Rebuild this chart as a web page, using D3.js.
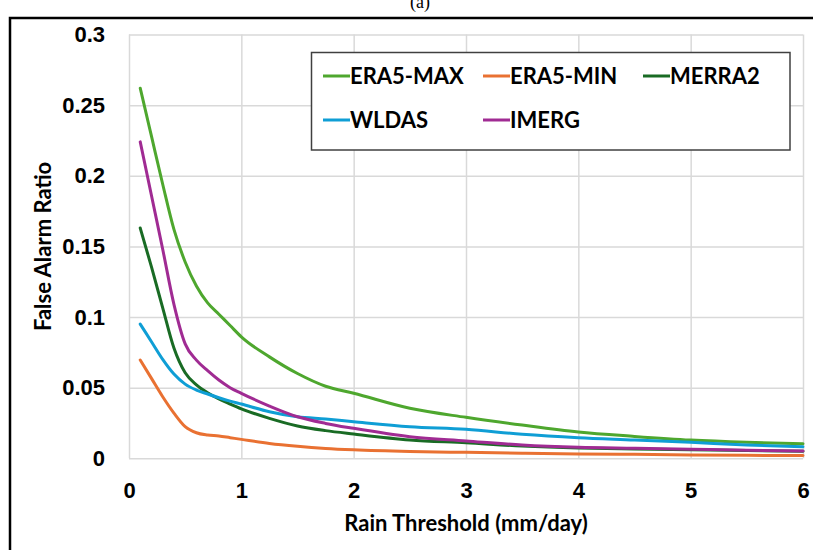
<!DOCTYPE html>
<html>
<head>
<meta charset="utf-8">
<script src="https://cdn.jsdelivr.net/npm/d3@7"></script>
<style>
  html, body { margin: 0; padding: 0; background: #fff; overflow: hidden; }
  svg { display: block; }
  .tick text { font-family: "Liberation Sans", Arial, sans-serif; font-weight: bold; font-size: 22px; fill: #000; }
  .title { font-family: Lato, "Open Sans", sans-serif; font-weight: bold; font-size: 22px; fill: #000; }
  .legend text { font-family: Lato, "Open Sans", sans-serif; font-weight: bold; font-size: 22px; fill: #000; }
</style>
</head>
<body>
<svg id="chart" width="813" height="550"></svg>
<script>
// rain thresholds (mm/day)
const thresholds = [0.1, 0.2, 0.3, 0.4, 0.5, 0.6, 0.7, 0.8, 0.9, 1.0, 1.25, 1.5, 1.75, 2.0, 2.5, 3.0, 3.5, 4.0, 4.5, 5.0, 5.5, 6.0];

const era5Max = [0.262, 0.228, 0.194, 0.162, 0.139, 0.122, 0.110, 0.102, 0.094, 0.086, 0.0718, 0.060, 0.051, 0.046, 0.0354, 0.0290, 0.0235, 0.0186, 0.0155, 0.0129, 0.0113, 0.0103];
const era5Min = [0.0696, 0.0566, 0.0436, 0.032, 0.0224, 0.0181, 0.0165, 0.0158, 0.0146, 0.0134, 0.0105, 0.0085, 0.0070, 0.0060, 0.0048, 0.0042, 0.0036, 0.0031, 0.0028, 0.0024, 0.0021, 0.0019];
const merra2 = [0.163, 0.1355, 0.1065, 0.078, 0.0605, 0.052, 0.0464, 0.042, 0.0384, 0.035, 0.0283, 0.0229, 0.0196, 0.0172, 0.013, 0.011, 0.0087, 0.0073, 0.0066, 0.006, 0.0055, 0.005];
const wldas = [0.095, 0.0825, 0.070, 0.0596, 0.0525, 0.0483, 0.0455, 0.0429, 0.0405, 0.0384, 0.033, 0.0294, 0.0278, 0.0259, 0.0224, 0.0205, 0.017, 0.0146, 0.013, 0.0113, 0.0094, 0.0082];
const imerg = [0.224, 0.186, 0.148, 0.109, 0.081, 0.0695, 0.062, 0.0554, 0.050, 0.046, 0.037, 0.0294, 0.0247, 0.0212, 0.0153, 0.0123, 0.0094, 0.0078, 0.0071, 0.0064, 0.0057, 0.0052];

const seriesNames = ['ERA5-MAX', 'ERA5-MIN', 'MERRA2', 'WLDAS', 'IMERG'];
const seriesValues = [era5Max, era5Min, merra2, wldas, imerg];
const seriesColors = ['#4EA72E', '#E97132', '#196B24', '#0F9ED5', '#A02B93'];

const xTicks = [0, 1, 2, 3, 4, 5, 6];
const yTicks = [0, 0.05, 0.1, 0.15, 0.2, 0.25, 0.3];

const svg = d3.select('#chart');
const plot = { left: 129, right: 803, top: 34.5, bottom: 458.3 };

const x = d3.scaleLinear().domain([0, 6]).range([plot.left, plot.right]);
const y = d3.scaleLinear().domain([0, 0.3]).range([plot.bottom, plot.top]);

// outer frame and panel letter (cut off at the top, as in the source figure)
svg.append('rect')
  .attr('x', 10).attr('y', 18)
  .attr('width', 900).attr('height', 600)
  .attr('fill', 'none')
  .attr('stroke', '#000')
  .attr('stroke-width', 2.5);

svg.append('text')
  .attr('x', 420).attr('y', 8)
  .attr('text-anchor', 'middle')
  .style('font-family', '"Liberation Serif", serif')
  .style('font-size', '18px')
  .text('(a)');

// axes with gridlines
const xAxis = svg.append('g')
  .attr('transform', `translate(0,${plot.bottom})`)
  .call(d3.axisBottom(x).tickValues(xTicks).tickSize(-(plot.bottom - plot.top)).tickPadding(24).tickFormat(d3.format('d')));

const yAxis = svg.append('g')
  .attr('transform', `translate(${plot.left},0)`)
  .call(d3.axisLeft(y).tickValues(yTicks).tickSize(-(plot.right - plot.left)).tickPadding(24).tickFormat(d => String(+d.toFixed(2))));

[xAxis, yAxis].forEach((a) => {
  a.select('.domain').remove();
  a.selectAll('.tick line').attr('stroke', '#d9d9d9').attr('stroke-width', 1.5);
});
xAxis.selectAll('.tick text').attr('dy', '0.71em');

// lines
const line = d3.line()
  .x((d, i) => x(thresholds[i]))
  .y(d => y(d))
  .curve(d3.curveMonotoneX);

svg.append('g')
  .selectAll('path')
  .data(seriesValues)
  .enter()
  .append('path')
  .attr('d', line)
  .attr('fill', 'none')
  .attr('stroke', (d, i) => seriesColors[i])
  .attr('stroke-width', 3)
  .attr('stroke-linejoin', 'round')
  .attr('stroke-linecap', 'round');

// axis titles
svg.append('text')
  .attr('class', 'title')
  .attr('x', (plot.left + plot.right) / 2)
  .attr('y', 531)
  .attr('text-anchor', 'middle')
  .text('Rain Threshold (mm/day)');

svg.append('text')
  .attr('class', 'title')
  .attr('transform', `translate(51,${(plot.top + plot.bottom) / 2}) rotate(-90)`)
  .attr('text-anchor', 'middle')
  .text('False Alarm Ratio');

// legend
const legend = svg.append('g').attr('class', 'legend');
legend.append('rect')
  .attr('x', 311.5).attr('y', 52.5)
  .attr('width', 478.5).attr('height', 97.5)
  .attr('fill', '#fff')
  .attr('stroke', '#404040')
  .attr('stroke-width', 1.5);

const legendCols = [323, 483, 643];
const legendRows = [84, 128];
const item = legend.selectAll('g.item')
  .data(seriesNames)
  .enter()
  .append('g')
  .attr('class', 'item')
  .attr('transform', (d, i) => `translate(${legendCols[i % 3]},${legendRows[Math.floor(i / 3)]})`);

item.append('line')
  .attr('x1', 0).attr('x2', 27)
  .attr('y1', -8).attr('y2', -8)
  .attr('stroke', (d, i) => seriesColors[i])
  .attr('stroke-width', 3);

item.append('text')
  .attr('x', 27)
  .text(d => d);
</script>
</body>
</html>
